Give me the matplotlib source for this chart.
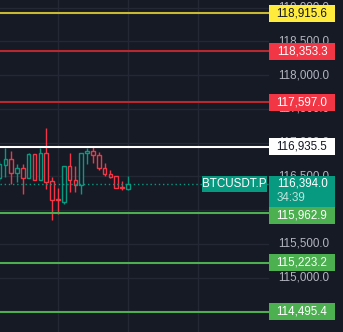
import matplotlib.pyplot as plt
import matplotlib.transforms as mtransforms
from matplotlib.patches import Rectangle

BG = "#161a25"
GRID = "#242835"
UP = "#089981"
DOWN = "#f23645"
AXIS_TEXT = "#b2b5be"

# candles, oldest first
opens = [116482, 116675, 116764, 116556, 116631, 116482, 116838, 116453, 116853, 116438,
         116160, 116126, 116660, 116453, 116378, 116853, 116883, 116824, 116631, 116542,
         116512, 116349, 116319]
highs = [116735, 116927, 116883, 116690, 116690, 116853, 116838, 116927, 117224, 116497,
         116334, 116660, 116853, 116660, 116853, 116927, 116942, 116868, 116705, 116601,
         116512, 116438, 116512]
lows = [116438, 116497, 116393, 116423, 116245, 116482, 116453, 116453, 116319, 115859,
        115948, 116097, 116275, 116275, 116245, 116690, 116705, 116601, 116512, 116482,
        116334, 116304, 116304]
closes = [116690, 116764, 116556, 116631, 116482, 116838, 116453, 116853, 116423, 116156,
          116150, 116660, 116453, 116378, 116853, 116883, 116824, 116631, 116542, 116497,
          116334, 116334, 116394]

# horizontal levels
level_prices = [118915.6, 118353.3, 117597.0, 116935.5, 115962.9, 115223.2, 114495.4]
level_line_colors = ["#c9b932", "#b9272f", "#b9272f", "#ffffff", "#4caf50", "#4caf50", "#4caf50"]
level_box_colors = ["#ffeb3b", "#f23645", "#f23645", "#ffffff", "#4caf50", "#4caf50", "#4caf50"]
level_text_colors = ["#131722", "white", "white", "#131722", "white", "white", "white"]

last_price = 116394.0
countdown = "34:39"
symbol = "BTCUSDT.P"
tick_values = [115000, 115500, 116000, 116500, 117000, 117500, 118000, 118500, 119000]
vgrid_bars = [10, 22, 34]

W, H = 343, 332
fig = plt.figure(figsize=(W / 100, H / 100), dpi=100, facecolor=BG)
ax = fig.add_axes([0, 0, 1, 1], facecolor=BG)
ax.set_xlim(0.09, 58.83)
ax.set_ylim(114195, 119113)
ax.axis("off")

px = (119113 - 114195) / H  # price per pixel
pane = 268 / W
box_l, box_r = 269 / W, 335 / W
tr = mtransforms.blended_transform_factory(ax.transAxes, ax.transData)
font = dict(family=["Liberation Sans", "DejaVu Sans"], fontsize=8.4)

# grid
for t in tick_values:
    ax.axhline(t, xmax=pane, color=GRID, lw=1, zorder=1)
for b in vgrid_bars:
    ax.axvline(b, color=GRID, lw=1, zorder=1)

# candles (hollow bodies)
bw = 0.62
for i in range(len(opens)):
    o, h, l, c = opens[i], highs[i], lows[i], closes[i]
    col = UP if c >= o else DOWN
    top, bot = max(o, c), min(o, c)
    ax.vlines(i, top, h, color=col, lw=1, zorder=3)
    ax.vlines(i, l, bot, color=col, lw=1, zorder=3)
    ax.add_patch(Rectangle((i - bw / 2, bot), bw, max(top - bot, px), facecolor=BG,
                           edgecolor=col, lw=1, zorder=4))

# price axis labels
for t in tick_values:
    ax.text(329 / W, t, f"{t:,.1f}", transform=tr, ha="right", va="center",
            color=AXIS_TEXT, zorder=5, **font)

# current price
ax.axhline(last_price, xmax=pane, color=UP, lw=1, ls=(0, (1, 2)), zorder=5)
ax.add_patch(Rectangle((202 / W, last_price - 8 * px), 65 / W, 16 * px, transform=tr,
                       facecolor=UP, lw=0, zorder=8))
ax.text(234.5 / W, last_price, symbol, transform=tr, ha="center", va="center",
        color="white", zorder=9, **font)
lp_top = last_price + 8 * px
lp_bot = last_price - 23 * px
ax.add_patch(Rectangle((box_l, lp_bot), box_r - box_l, lp_top - lp_bot, transform=tr,
                       facecolor=UP, lw=0, zorder=8))
ax.text(277 / W, last_price, f"{last_price:,.1f}", transform=tr, ha="left", va="center",
        color="white", zorder=9, **font)
ax.text(277 / W, last_price - 14 * px, countdown, transform=tr, ha="left", va="center",
        color="#bfe3da", zorder=9, **font)

# levels with price boxes
for p, lc, bc, tc in zip(level_prices, level_line_colors, level_box_colors, level_text_colors):
    ax.axhline(p, xmax=pane, color=lc, lw=1.5, zorder=6)
    center = p
    if p + 8.5 * px > lp_bot and p < last_price:
        center = lp_bot - 8.5 * px
    ax.add_patch(Rectangle((box_l, center - 8.5 * px), box_r - box_l, 17 * px, transform=tr,
                           facecolor=bc, lw=0, zorder=8))
    ax.text((box_l + box_r) / 2, center, f"{p:,.1f}", transform=tr, ha="center",
            va="center", color=tc, zorder=9, **font)

plt.savefig("out.png", dpi=100, facecolor=BG)
